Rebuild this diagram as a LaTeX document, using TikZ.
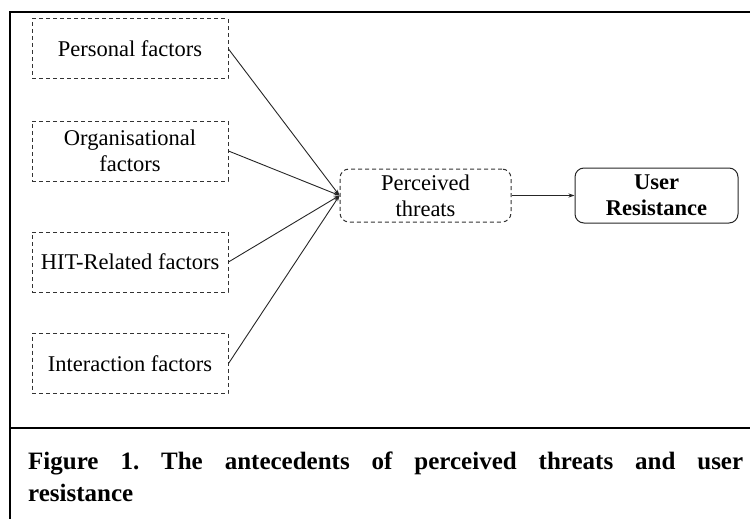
\documentclass[tikz,border=0pt]{standalone}
\usepackage{fontspec}
\setmainfont{Liberation Serif}
\usepackage{tikz}
\usetikzlibrary{arrows.meta}
\frenchspacing

\tikzset{
  factor/.style={draw=black!80, dash pattern=on 4pt off 3pt, line width=1pt, minimum width=196pt, minimum height=60pt, align=center, inner sep=2pt, font=\fontsize{22.5}{26}\selectfont},
  link/.style={line width=0.9pt, black!85, -{Stealth[length=6pt, width=4pt]}}
}

\begin{document}
\begin{tikzpicture}[x=1pt, y=-1pt]
\useasboundingbox (0,0) rectangle (750,519);
\draw[line width=2pt] (10,519) -- (10,12) -- (750,12);
\draw[line width=2pt] (10,428) -- (750,428);
\node[factor] (pers) at (130,49) {Personal factors};
\node[factor] (org) at (130,151) {Organisational\\factors};
\node[factor] (hit) at (130,262) {HIT-Related factors};
\node[factor] (inter) at (130,363.5) {Interaction factors};
\node[factor, rounded corners=9pt, minimum width=171pt, minimum height=53pt] (thr) at (425.5,195.5) {Perceived\\threats};
\node[factor, solid, draw=black!85, rounded corners=9pt, minimum width=163pt, minimum height=55pt, font=\fontsize{22.5}{26}\selectfont\bfseries] (res) at (656.5,195.5) {User\\Resistance};
\draw[link] (pers.east) -- (thr.west);
\draw[link] (org.east) -- (thr.west);
\draw[link] (hit.east) -- (thr.west);
\draw[link] (inter.east) -- (thr.west);
\draw[link] (thr.east) -- (res.west);
\node[anchor=base west, text width=715pt, align=justify, inner sep=0pt, font=\fontsize{25}{32}\selectfont\bfseries] (cap) at (28,469) {Figure 1. The antecedents of perceived threats and user\linebreak resistance};
\end{tikzpicture}
\end{document}
